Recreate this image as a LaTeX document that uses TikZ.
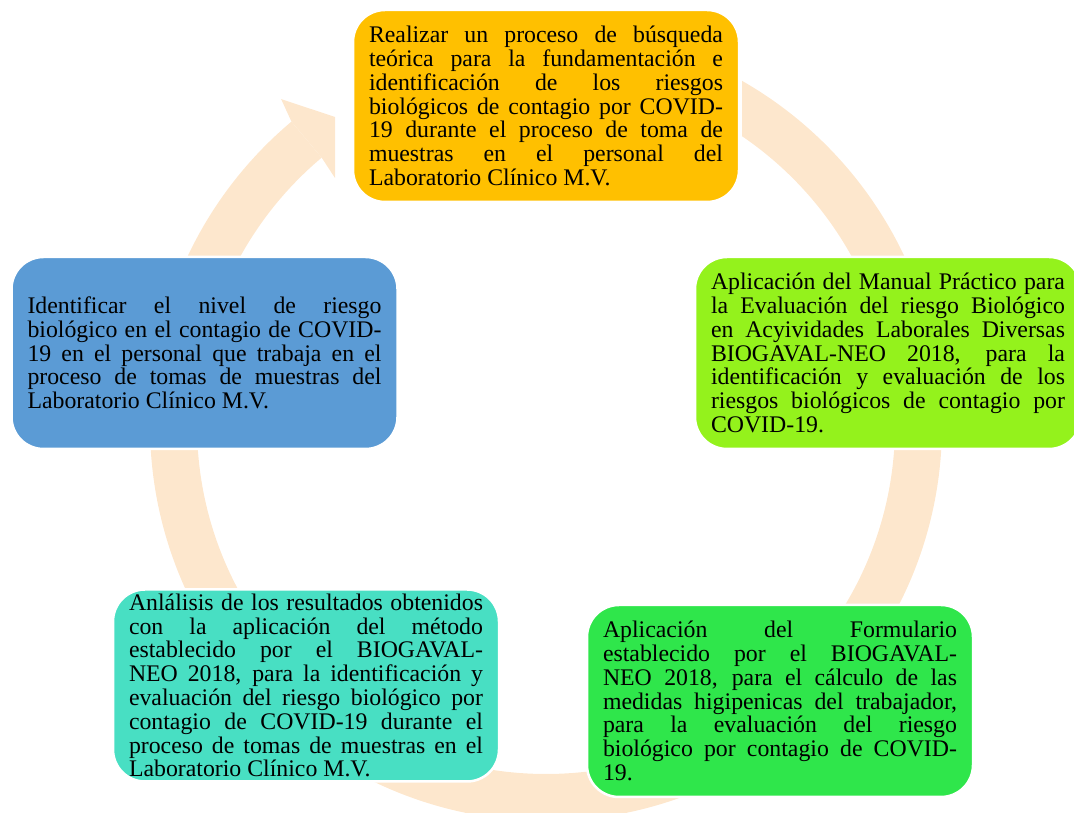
\documentclass[tikz,border=0pt]{standalone}
\usepackage{fontspec}
\setmainfont{Liberation Serif}
\usetikzlibrary{calc}

\definecolor{naranja}{HTML}{FFC000}
\definecolor{lima}{HTML}{94F21C}
\definecolor{verde}{HTML}{2FE64B}
\definecolor{turquesa}{HTML}{48DFC3}
\definecolor{azul}{HTML}{5B9BD5}
\definecolor{anillo}{HTML}{FDE7CD}

\tolerance=10000
\hbadness=10000
\hyphenpenalty=10000

\begin{document}
\begin{tikzpicture}[x=1pt, y=1pt,
    caja/.style={rounded corners=32pt, draw=white, line width=2.5pt,
        minimum width=386pt, minimum height=192pt, text width=354pt,
        inner xsep=16pt, inner ysep=2pt, align=justify,
        font=\fontsize{23.8}{23.8}\selectfont}]

    \useasboundingbox (0,0) rectangle (1074,813);

    % Centro del ciclo
    \coordinate (centro) at (546,388);

    % Anillo del ciclo (cortado arriba, entre la flecha y la primera caja)
    \begin{scope}
        \clip (centro) -- ($(centro)+(130:600pt)$) -- (-100,900) -- (-100,-100)
            -- (1200,-100) -- (1200,900) -- (742,900) -- (742,388) -- cycle;
        \fill[anillo, even odd rule] (centro) circle (396pt) (centro) circle (349pt);
    \end{scope}

    % Punta de flecha hacia la primera caja
    \fill[anillo] ($(centro)+(130:396pt)$) -- ($(centro)+(129.1:420pt)$)
        -- (335,696) -- (335,635) -- ($(centro)+(130:349pt)$) -- cycle;

    % Cajas del ciclo
    \node[caja, fill=naranja] (tarea1) at (546,707) {Realizar un proceso de búsqueda\linebreak
        teórica para la fundamentación e\linebreak
        identificación de los riesgos\linebreak
        biológicos de contagio por COVID-\linebreak
        19 durante el proceso de toma de\linebreak
        muestras en el personal del\linebreak
        Laboratorio Clínico M.V.};

    \node[caja, fill=lima] (tarea2) at (888,460) {Aplicación del Manual Práctico para\linebreak
        la Evaluación del riesgo Biológico\linebreak
        en Acyividades Laborales Diversas\linebreak
        BIOGAVAL-NEO 2018, para la\linebreak
        identificación y evaluación de los\linebreak
        riesgos biológicos de contagio por\linebreak
        COVID-19.};

    \node[caja, fill=verde] (tarea3) at (780,112) {Aplicación del Formulario\linebreak
        establecido por el BIOGAVAL-\linebreak
        NEO 2018, para el cálculo de las\linebreak
        medidas higipenicas del trabajador,\linebreak
        para la evaluación del riesgo\linebreak
        biológico por contagio de COVID-\linebreak
        19.};

    \node[caja, fill=turquesa] (tarea4) at (306,127.5) {Anlálisis de los resultados obtenidos\linebreak
        con la aplicación del método\linebreak
        establecido por el BIOGAVAL-\linebreak
        NEO 2018, para la identificación y\linebreak
        evaluación del riesgo biológico por\linebreak
        contagio de COVID-19 durante el\linebreak
        proceso de tomas de muestras en el\linebreak
        Laboratorio Clínico M.V.};

    \node[caja, fill=azul] (tarea5) at (204.5,460) {Identificar el nivel de riesgo\linebreak
        biológico en el contagio de COVID-\linebreak
        19 en el personal que trabaja en el\linebreak
        proceso de tomas de muestras del\linebreak
        Laboratorio Clínico M.V.};

\end{tikzpicture}
\end{document}
